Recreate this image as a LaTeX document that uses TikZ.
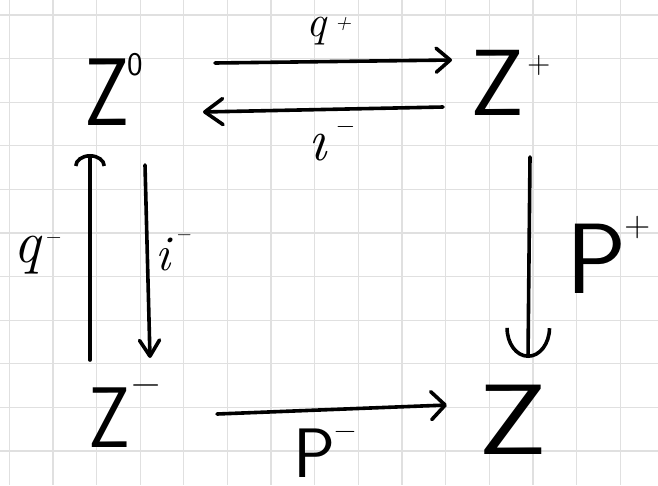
\documentclass[tikz,border=0pt]{standalone}
\usepackage{graphicx}
\usetikzlibrary{arrows.meta,calc}
\definecolor{gridc}{RGB}{224,224,224}
\newcommand\supd[6]{{\fontsize{#1}{#1}\selectfont #2}\kern#5\raisebox{#4}{\fontsize{#3}{#3}\selectfont #6}}
\tikzset{
  gridline/.style={draw=gridc,line width=1.3pt},
  lab/.style={inner sep=0pt,outer sep=0pt,anchor=base west,font=\sffamily},
  slab/.style={inner sep=0pt,outer sep=0pt,anchor=base west,font=\itshape},
  ink/.style={line width=3.6pt,line cap=round,line join=round,black},
}
\begin{document}
\begin{tikzpicture}[x=1pt,y=-1pt]
\useasboundingbox (0,0) rectangle (658,485);
\fill[white] (0,0) rectangle (658,485);
\foreach \i in {0,...,14} \draw[gridline] ({9.2+43.65*\i},0) -- ++(0,485);
\foreach \j in {0,...,10} \draw[gridline] (0,{15+43.6*\j}) -- ++(658,0);

% objects
\node[lab] (Z0) at (84,125) {\supd{96pt}{\scalebox{0.82}[1]{Z}}{33pt}{50pt}{-2pt}{0}};
\node[lab] (Zp) at (470,115) {\supd{94pt}{Z}{32pt}{42pt}{3pt}{+}};
\node[lab] (Zm) at (88,447) {\supd{86pt}{\scalebox{0.85}[1]{Z}}{40pt}{52pt}{1pt}{−}};
\node[lab] (Z)  at (478,454) {{\fontsize{100pt}{100pt}\selectfont\scalebox{1.2}[1]{Z}}};

% arrows
\draw[ink,-{Straight Barb[round,length=14pt,width=24pt]}]
  ($(Z0.base west)+(131,-62)$) -- ($(Zp.base west)+(-18,-55)$);
\draw[ink,-{Straight Barb[round,length=18pt,width=26pt]}]
  ($(Zp.base west)+(-27,-8)$) -- ($(Z0.base west)+(119,-13)$);
\draw[ink,-{Arc Barb[length=12pt,width=32pt]}]
  ($(Zm.base west)+(2,-87)$) -- ($(Z0.base west)+(6,29)$);
\draw[ink,-{Straight Barb[round,length=16pt,width=20pt]}]
  ($(Z0.base west)+(61,40)$) -- ($(Zm.base west)+(62,-89)$);
\draw[ink,-{Arc Barb[length=30pt,width=46pt]}]
  ($(Zp.base west)+(60,42)$) -- ($(Z.base west)+(50,-96)$);
\draw[ink,-{Straight Barb[round,length=14pt,width=28pt]}]
  ($(Zm.base west)+(129,-33)$) -- ($(Z.base west)+(-31,-49)$);

% labels
\node[slab] (lqp) at (306,36) {\supd{44pt}{q}{22pt}{6.5pt}{9pt}{+}};
\node[slab] (lip) at (308,160) {\supd{60pt}{\i}{26pt}{26.5pt}{8pt}{−}};
\node[slab] (lqm) at (13,262) {\supd{60pt}{q}{22pt}{18.5pt}{4pt}{−}};
\node[slab] (lim) at (155,270) {\supd{50pt}{i}{21pt}{30pt}{5pt}{−}};
\node[lab] (lPp) at (566,293) {\supd{100pt}{P}{36pt}{57pt}{-2pt}{+}};
\node[lab] (lPm) at (293,477) {\supd{70pt}{P}{30pt}{37.5pt}{-1pt}{−}};
\end{tikzpicture}
\end{document}
